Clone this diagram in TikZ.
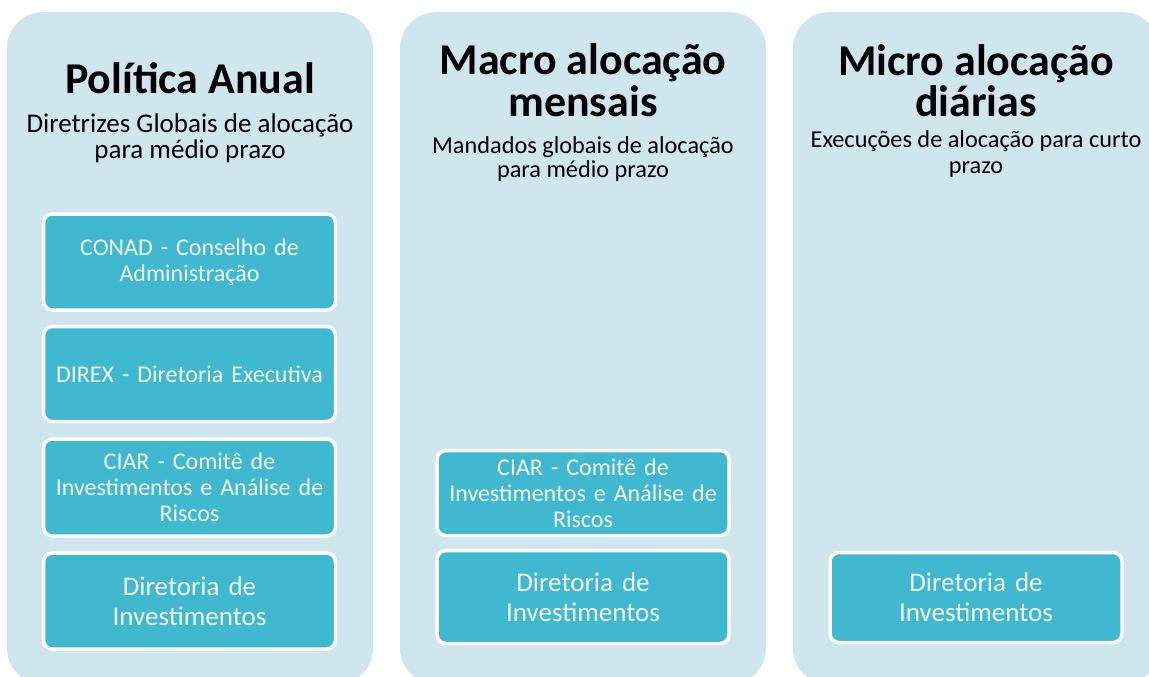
\documentclass[tikz,border=0pt]{standalone}
\usepackage{fontspec}
\setmainfont{Carlito}
\usetikzlibrary{positioning,calc}
\definecolor{painel}{HTML}{CFE6EE}
\definecolor{caixa}{HTML}{40B8D0}
\definecolor{letra}{HTML}{F2FAFD}
\tikzset{
	painel/.style={fill=painel,rounded corners=36pt,minimum width=366pt,minimum height=672pt,anchor=north,inner sep=0pt},
	caixa/.style={fill=caixa,draw=white,line width=3.5pt,rounded corners=9pt,minimum width=292pt,text=letra,align=center,inner sep=0pt,text width=288pt},
	titulo/.style={font=\fontsize{44}{44}\selectfont\bfseries,align=center,inner sep=0pt,anchor=base},
	subtitulo/.style={align=center,inner sep=0pt,anchor=base},
	menor/.style={font=\fontsize{24}{26}\selectfont},
	maior/.style={font=\fontsize{27}{30}\selectfont}
}
\begin{document}
\begin{tikzpicture}[x=1pt,y=-1pt]
		\useasboundingbox (0,0) rectangle (1149,677);
		\clip (0,0) rectangle (1149,677);
		\coordinate(A) at (190,12);
		\coordinate(B) at (583,12);
		\coordinate(C) at (976,12);
		
		\node[painel] (P1) at (A) {};
		\node[painel] (P2) at (B) {};
		\node[painel] (P3) at (C) {};
		
		% Titulos (base = ultima linha)
		\node[titulo] (T1) at ($(A)+(0,81)$) {Política Anual};
		\node[subtitulo,font=\fontsize{27}{26}\selectfont] (S1) at ($(A)+(0,146)$) {Diretrizes Globais de alocação\\para médio prazo};
		\node[titulo,font=\fontsize{44}{42}\selectfont\bfseries] (T2) at ($(B)+(0,104)$) {Macro alocação\\mensais};
		\node[subtitulo,font=\fontsize{24.3}{24}\selectfont] (S2) at ($(B)+(0,165)$) {Mandados globais de alocação\\para médio prazo};
		\node[titulo,font=\fontsize{44}{41}\selectfont\bfseries] (T3) at ($(C)+(0,104)$) {Micro alocação\\diárias};
		\node[subtitulo,font=\fontsize{24.3}{26}\selectfont] (S3) at ($(C)+(0,161)$) {Execuções de alocação para curto\\prazo};
		
		% Caixas
		\node[caixa,menor,minimum height=96pt] (K1) at (189.5,262) {CONAD - Conselho de\\Administração};
		\node[caixa,menor,minimum height=95pt] (K2) at (189.5,374) {DIREX - Diretoria Executiva};
		\node[caixa,menor,minimum height=97pt] (K3) at (189.5,487.5) {CIAR - Comitê de\\Investimentos e Análise de\\Riscos};
		\node[caixa,maior,minimum height=96pt] (K4) at (189.5,601) {Diretoria de\\Investimentos};
		
		\node[caixa,menor,minimum height=85pt] (K5) at (583,493) {CIAR - Comitê de\\Investimentos e Análise de\\Riscos};
		\node[caixa,maior,minimum height=93pt] (K6) at (583,597) {Diretoria de\\Investimentos};
		
		\node[caixa,maior,minimum height=90pt] (K7) at (976,597.5) {Diretoria de\\Investimentos};
	\end{tikzpicture}
\end{document}
